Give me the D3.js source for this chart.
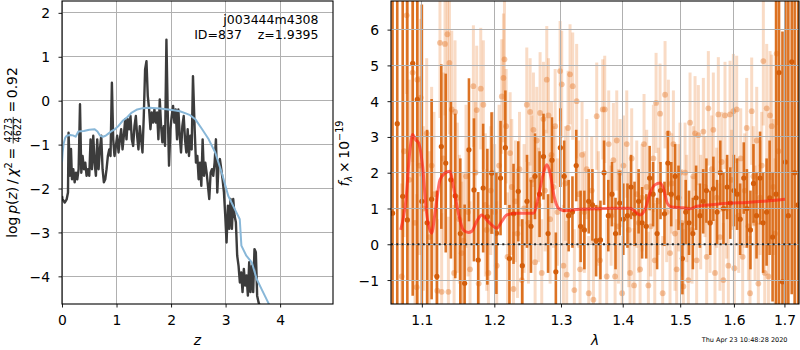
<!DOCTYPE html>
<html><head><meta charset="utf-8">
<script src="https://cdn.jsdelivr.net/npm/d3@7"></script>
<style>
body{margin:0;background:#fff;}
svg{display:block;font-family:"DejaVu Sans",sans-serif;}
</style></head><body>
<svg id="c" width="800" height="350"></svg>
<script>
// ---------- left panel: log p(z) ----------
const pzZ = [0.00,0.01,0.05,0.085,0.11,0.12,0.146,0.165,0.183,0.207,
0.232,0.256,0.28,0.305,0.33,0.354,0.378,0.402,0.427,0.451,
0.476,0.5,0.524,0.549,0.573,0.598,0.622,0.646,0.671,0.695,
0.72,0.744,0.768,0.793,0.817,0.841,0.866,0.89,0.915,0.939,
0.963,0.988,1.012,1.037,1.061,1.085,1.11,1.134,1.159,1.183,
1.207,1.232,1.256,1.28,1.305,1.329,1.354,1.378,1.402,1.427,
1.451,1.476,1.5,1.524,1.549,1.573,1.598,1.622,1.646,1.67,
1.695,1.72,1.744,1.768,1.793,1.817,1.841,1.866,1.89,1.915,
1.939,1.963,1.988,2.012,2.037,2.061,2.085,2.11,2.134,2.159,
2.183,2.207,2.232,2.256,2.28,2.305,2.329,2.354,2.378,2.402,
2.433,2.457,2.482,2.506,2.53,2.555,2.579,2.604,2.628,2.652,
2.677,2.701,2.726,2.75,2.774,2.799,2.823,2.848,2.872,2.896,
2.921,2.945,2.97,2.994,3.018,3.043,3.067,3.091,3.116,3.14,
3.165,3.189,3.213,3.238,3.262,3.287,3.311,3.335,3.36,3.384,
3.409,3.433,3.457,3.482,3.506,3.53,3.555,3.579,3.604,3.628,
3.665,3.72];
const pzLogp = [-2.17,-2.24,-2.32,-2.25,-2.09,-0.73,-1.71,-1.1,-1.79,-1.56,
-1.86,-1.64,-1.79,-1.56,-0.08,-1.64,-1.26,-1.56,-1.41,-1.71,
-1.56,-1.71,-0.88,-1.56,-0.8,-1.41,-1.71,-0.88,-1.56,-1.11,
-0.8,-1.56,-1.86,-1.79,-1.56,-1.26,-1.11,-1.26,0.41,-0.88,
-1.26,-1.03,-0.8,-1.18,-0.88,-0.65,-1.11,-0.8,-0.42,-0.88,
-0.42,-0.65,-0.35,-0.88,-1.03,-0.58,-0.35,-0.8,-1.11,-0.58,
-0.88,-1.18,-0.35,0.71,0.9,0.11,-0.2,-0.65,-0.27,-0.5,
-0.2,-0.5,-0.27,-0.88,0.03,-0.58,-0.95,-0.58,-1.03,1.39,
-0.27,-1.48,-0.65,-0.35,-0.12,-0.5,-0.2,-0.88,-0.2,-0.8,
-1.18,-0.58,-0.35,-0.88,-1.18,-0.65,-1.26,-0.8,-1.11,0.56,
-0.65,-1.41,-1.26,-1.79,-1.41,-1.94,-0.88,-1.71,-1.41,-1.64,
-1.94,-2.24,-1.64,-1.56,-1.71,-1.41,-0.88,-2.09,-1.41,-1.33,
-1.56,-1.79,-2.09,-2.62,-3.23,-2.39,-2.92,-2.24,-2.92,-2.24,
-2.62,-2.77,-3.53,-3.76,-4.14,-3.91,-4.36,-3.83,-4.21,-3.98,
-4.44,-3.68,-4.36,-3.76,-4.36,-3.38,-3.45,-4.44,-4.59,-4.67,
-4.9,-5.3];
const priorZ = [0,0.012,0.03,0.06,0.085,0.15,0.2,0.25,0.3,0.4,
0.5,0.6,0.65,0.7,0.75,0.8,0.85,0.9,0.96,1.04,
1.12,1.2,1.28,1.38,1.48,1.6,1.8,1.95,2.05,2.16,
2.27,2.35,2.45,2.57,2.69,2.81,2.93,3.05,3.2,3.26,
3.29,3.38,3.48,3.57,3.66,3.75,3.81,3.9];
const priorLogp = [-1.4,-1.18,-0.98,-0.84,-0.8,-0.78,-0.79,-0.82,-0.7,-0.69,
-0.66,-0.65,-0.7,-0.8,-0.82,-0.8,-0.75,-0.7,-0.66,-0.57,
-0.45,-0.37,-0.27,-0.2,-0.17,-0.16,-0.18,-0.2,-0.22,-0.24,
-0.29,-0.33,-0.43,-0.65,-0.88,-1.18,-1.64,-2.17,-2.55,-2.7,
-3.3,-3.53,-3.68,-4.06,-4.29,-4.52,-4.67,-4.9];
const zTicks = [0,1,2,3,4];
const pzTicks = [-4,-3,-2,-1,0,1,2];

// ---------- right panel: spectrum ----------
const darkWave = [1.062,1.068,1.075,1.081,1.088,1.094,1.100,1.107,1.113,1.120,
1.126,1.132,1.139,1.145,1.152,1.158,1.164,1.171,1.177,1.184,
1.190,1.196,1.203,1.209,1.216,1.222,1.228,1.235,1.241,1.248,
1.254,1.260,1.267,1.273,1.280,1.286,1.292,1.299,1.305,1.312,
1.318,1.324,1.331,1.337,1.344,1.350,1.356,1.363,1.369,1.376,
1.382,1.388,1.395,1.401,1.408,1.414,1.420,1.427,1.433,1.440,
1.446,1.452,1.459,1.465,1.472,1.478,1.484,1.491,1.497,1.504,
1.510,1.516,1.523,1.529,1.536,1.542,1.548,1.555,1.561,1.568,
1.574,1.580,1.587,1.593,1.600,1.606,1.612,1.619,1.625,1.632,
1.638,1.644,1.651,1.657,1.664,1.670,1.676,1.683,1.689,1.696,
1.702,1.708,1.715,1.721,1.728];
const darkFlux = [0.87,3.37,1.34,0.68,5.06,4.05,1.2,0.6,1.26,-0.9,
2.73,2.27,1.8,1.35,0.3,-1.09,2.64,1.52,-0.44,1.57,
0.77,1.99,0.31,1.85,2.7,-0.4,0.85,1.48,-0.6,1.2,
0.5,1.9,1.4,2.45,0.3,2.35,-0.77,2.7,1.9,0.8,
0.9,2.2,0.5,0.4,1.2,1.1,0.1,0.12,2.0,0.8,
1.4,0.3,1.15,0.7,0.8,1.6,0.85,1.2,0.6,0.5,
1.85,1.4,0.3,1.5,0.85,2.27,1.4,1.9,1.3,-0.4,
0.9,0.6,0.3,1.3,0.8,1.2,1.5,0.6,1.55,0.9,
2.0,1.0,1.6,1.15,1.5,1.4,0.7,1.85,1.0,0.4,
1.7,0.8,1.85,0.6,0.9,1.3,0.2,1.4,4.8,-1.05,
2.3,0.8,5.1,2.0,1.1];
const darkErr = [6.5,7.0,6.0,7.5,6.5,6.0,5.5,2.6,2.8,2.4,
2.3,2.5,2.2,2.3,2.1,2.2,2.0,2.0,1.9,1.8,
1.9,1.7,1.7,1.6,1.6,1.5,1.4,1.4,1.3,1.3,
1.3,1.2,1.2,1.2,1.1,1.2,1.1,1.1,1.0,1.0,
1.0,1.0,1.0,1.1,0.9,1.0,1.0,1.1,0.9,1.0,
0.9,1.0,0.9,1.0,0.9,0.9,0.9,0.9,1.0,0.9,
0.9,0.9,1.0,0.8,0.9,0.9,0.9,0.9,0.9,1.0,
0.9,0.9,1.0,0.9,0.9,0.9,0.9,0.9,0.9,0.9,
0.9,1.0,0.9,1.0,1.0,1.0,1.0,1.0,1.1,1.1,
1.1,1.2,1.3,1.4,1.5,1.6,1.8,5.5,6.5,7.0,
6.0,7.0,6.5,7.5,7.0];
const lightWave = [1.0737,1.0767,1.0801,1.0836,1.0879,1.0910,1.0932,1.0941,1.0967,1.0985,
1.1020,1.1064,1.1099,1.1130,1.1161,1.1206,1.1242,1.1265,1.1288,1.1310,
1.1342,1.1356,1.1370,1.1402,1.1434,1.1447,1.1479,1.1507,1.1539,1.1562,
1.1599,1.1627,1.1655,1.1702,1.1730,1.1749,1.1777,1.1806,1.1843,1.1872,
1.1891,1.1915,1.1949,1.1977,1.2006,1.2035,1.2069,1.2108,1.2132,1.2147,
1.2171,1.2191,1.2230,1.2254,1.2279,1.2309,1.2338,1.2368,1.2403,1.2437,
1.2477,1.2502,1.2527,1.2552,1.2577,1.2602,1.2627,1.2653,1.2678,1.2703,
1.2729,1.2754,1.2780,1.2806,1.2831,1.2852,1.2883,1.2909,1.2945,1.2986,
1.3012,1.3038,1.3069,1.3090,1.3111,1.3142,1.3184,1.3210,1.3247,1.3279,
1.3301,1.3333,1.3370,1.3408,1.3440,1.3489,1.3516,1.3570,1.3597,1.3624,
1.3668,1.3701,1.3734,1.3767,1.3806,1.3844,1.3872,1.3900,1.3928,1.3956,
1.3990,1.4012,1.4068,1.4102,1.4124,1.4152,1.4192,1.4238,1.4272,1.4295,
1.4329,1.4363,1.4409,1.4438,1.4479,1.4525,1.4549,1.4572,1.4613,1.4642,
1.4688,1.4730,1.4759,1.4789,1.4818,1.4848,1.4878,1.4907,1.4937,1.4973,
1.4997,1.5027,1.5057,1.5088,1.5118,1.5148,1.5179,1.5215,1.5239,1.5270,
1.5300,1.5331,1.5374,1.5423,1.5454,1.5485,1.5516,1.5547,1.5578,1.5609,
1.5640,1.5671,1.5703,1.5734,1.5766,1.5798,1.5829,1.5861,1.5893,1.5925,
1.5957,1.5989,1.6008,1.6053,1.6092,1.6131,1.6169,1.6208,1.6247,1.6280,
1.6312,1.6345,1.6378,1.6411,1.6444,1.6476,1.6509,1.6542,1.6575,1.6602,
1.6642,1.6676,1.6709,1.6743,1.6776,1.6810,1.6843,1.6877];
const lightFlux = [-0.9,2.6,6.4,1.8,4.8,0.6,-1.2,4.6,2.2,4.1,
1.0,3.1,0.2,2.2,1.4,-1.3,5.63,-1.33,2.4,5.6,
5.87,-1.33,5.07,3.77,-0.8,3.7,1.3,0.7,-0.25,0.1,
1.9,0.9,-0.7,4.42,2.0,3.75,-1.1,4.35,3.9,1.1,
0.4,-0.8,1.5,2.0,0.9,-0.6,2.2,4.13,4.65,5.17,
3.3,-0.35,2.55,1.6,-1.25,1.2,0.3,2.1,-1.0,1.0,
3.9,0.6,3.7,1.8,3.2,-0.5,2.9,1.1,3.67,-0.8,
3.5,1.5,4.6,3.6,0.7,2.5,1.6,3.3,0.9,4.84,
4.47,-0.6,1.7,-0.85,3.25,4.75,4.42,-1.28,4.0,1.4,
-0.7,2.5,0.9,2.1,-1.37,1.5,-1.55,3.58,1.0,-0.45,
3.77,3.77,-0.9,2.8,0.8,2.35,-0.9,2.9,0.5,2.0,
-1.37,2.2,2.8,0.4,-0.8,2.4,-1.15,1.4,0.6,-0.7,
1.3,2.8,1.6,-1.15,0.5,2.4,-0.45,3.95,1.2,3.65,
-1.37,4.18,0.9,3.1,-0.25,1.7,2.8,0.3,-0.7,1.3,
2.0,0.6,-1.18,2.0,1.0,-1.0,3.4,0.4,1.9,3.1,
-0.45,3.05,0.9,3.15,1.6,-0.35,3.8,0.6,2.1,3.2,
-0.8,1.3,3.63,0.2,2.3,-1.0,3.6,1.0,-0.6,3.63,
1.8,3.72,-0.67,3.77,0.8,2.4,-0.35,1.5,3.25,0.5,
-1.37,3.72,1.9,0.6,2.9,-1.1,1.3,2.2,5.12,-0.8,
3.8,-0.9,3.6,3.3,1.6,0.3,5.33,2.6];
const lightErr = [2.6,2.4,2.2,2.8,2.5,2.3,2.6,2.4,2.5,2.2,
2.3,2.1,2.4,2.2,2.3,2.0,2.1,2.2,2.4,2.0,
1.9,2.1,2.0,2.2,1.9,2.0,2.1,1.8,2.0,1.9,
2.0,1.8,1.9,1.7,2.0,1.8,1.9,1.7,1.8,2.0,
1.7,1.9,1.8,1.7,1.9,1.8,1.7,1.6,1.8,1.7,
1.6,1.8,1.7,1.9,1.6,1.7,1.8,1.6,1.7,1.8,
1.6,1.7,1.5,1.8,1.6,1.7,1.5,1.6,1.7,1.5,
1.6,1.7,1.5,1.6,1.8,1.5,1.7,1.6,1.5,1.4,
1.5,1.7,1.6,1.5,1.6,1.4,1.5,1.7,1.6,1.5,
1.6,1.5,1.7,1.4,1.6,1.5,1.7,1.5,1.6,1.5,
1.4,1.5,1.6,1.5,1.4,1.6,1.5,1.4,1.6,1.5,
1.6,1.4,1.5,1.6,1.5,1.4,1.6,1.5,1.4,1.6,
1.5,1.4,1.6,1.5,1.4,1.5,1.6,1.4,1.5,1.4,
1.6,1.5,1.4,1.5,1.6,1.4,1.5,1.6,1.4,1.5,
1.4,1.5,1.6,1.4,1.5,1.6,1.4,1.5,1.4,1.6,
1.5,1.4,1.6,1.5,1.4,1.5,1.6,1.4,1.5,1.6,
1.5,1.4,1.6,1.5,1.4,1.6,1.5,1.4,1.6,1.5,
1.4,1.6,1.5,1.5,1.6,1.4,1.5,1.6,1.4,1.5,
1.6,1.5,1.4,1.6,1.5,1.7,1.6,1.5,1.8,1.7,
1.8,1.9,1.8,2.0,1.9,2.1,2.0,2.2];
const modelWave = [1.0724,1.0792,1.0844,1.0879,1.0914,1.0958,1.1010,1.1063,1.1130,1.1175,
1.1242,1.1310,1.1378,1.1424,1.1493,1.1562,1.1632,1.1678,1.1749,1.1820,
1.1891,1.1963,1.2035,1.2108,1.2181,1.2328,1.2527,1.2577,1.2653,1.2729,
1.2780,1.2831,1.2893,1.2960,1.3038,1.3301,1.3568,1.3842,1.4122,1.4207,
1.4292,1.4378,1.4465,1.4552,1.4640,1.4710,1.4769,1.4846,1.5059,1.5180,
1.5302,1.5612,1.5925,1.6247,1.6575,1.7012];
const modelFlux = [0.40,1.24,2.64,3.07,2.93,2.83,2.18,0.87,0.31,0.87,
1.80,1.99,2.04,1.62,0.87,0.40,0.33,0.36,0.64,0.82,
0.68,0.54,0.45,0.64,0.82,0.87,0.87,0.87,1.34,1.99,
2.22,1.99,1.34,1.01,0.94,0.98,0.99,1.01,1.01,0.92,
0.82,0.96,1.43,1.66,1.71,1.52,1.15,1.04,1.02,0.99,
1.06,1.11,1.15,1.17,1.20,1.26];
const waveTicks = [1.1,1.2,1.3,1.4,1.5,1.6,1.7];
const fluxTicks = [-1,0,1,2,3,4,5,6];

const titleLines = ["j003444m4308", "ID=837    z=1.9395"];
const stamp = "Thu Apr 23 10:48:28 2020";

// ---------- drawing ----------
const svg = d3.select("#c");
const FS = 13.9;
const gridCol = "#b0b0b0";

const L = {x0:62, x1:333, y0:1, y1:304};
const R = {x0:391, x1:799, y0:1, y1:304};

const xL = d3.scaleLinear().domain([0,4.97]).range([L.x0,L.x1]);
const yL = d3.scaleLinear().domain([-4.63,2.27]).range([L.y1,L.y0]);
const xR = d3.scaleLog().domain([1.06,1.73]).range([R.x0,R.x1]);
const yR = d3.scaleLinear().domain([-1.67,6.8]).range([R.y1,R.y0]);

const defs = svg.append("defs");
defs.append("clipPath").attr("id","clipL").append("rect")
  .attr("x",L.x0).attr("y",L.y0).attr("width",L.x1-L.x0).attr("height",L.y1-L.y0);
defs.append("clipPath").attr("id","clipR").append("rect")
  .attr("x",R.x0).attr("y",R.y0).attr("width",R.x1-R.x0).attr("height",R.y1-R.y0);

function grid(g, P, xs, ys, xt, yt){
  const gg = g.append("g").attr("stroke",gridCol).attr("stroke-width",1).attr("shape-rendering","crispEdges");
  xt.forEach(t=>gg.append("line").attr("x1",xs(t)).attr("x2",xs(t)).attr("y1",P.y0).attr("y2",P.y1));
  yt.forEach(t=>gg.append("line").attr("y1",ys(t)).attr("y2",ys(t)).attr("x1",P.x0).attr("x2",P.x1));
}
function axes(P, xs, ys, xt, yt, xfmt, yfmt){
  const ax = svg.append("g").attr("transform",`translate(0,${P.y1})`)
    .call(d3.axisBottom(xs).tickValues(xt).tickFormat(xfmt).tickSize(3.5).tickPadding(3.5));
  const ay = svg.append("g").attr("transform",`translate(${P.x0},0)`)
    .call(d3.axisLeft(ys).tickValues(yt).tickFormat(yfmt).tickSize(3.5).tickPadding(8.5));
  [ax,ay].forEach(a=>{
    a.select(".domain").remove();
    a.selectAll("line").attr("stroke","#000").attr("stroke-width",0.9);
    a.selectAll("text").attr("font-size",FS).attr("font-family","DejaVu Sans").attr("fill","#000");
  });
  ax.selectAll("text").attr("y",21.2).attr("dy",0);
  ay.selectAll("text").attr("dy","0.36em");
  svg.append("rect").attr("x",P.x0).attr("y",P.y0).attr("width",P.x1-P.x0).attr("height",P.y1-P.y0)
    .attr("fill","none").attr("stroke","#000").attr("stroke-width",1.1);
}
const minus = s => s.replace("-","\u2212");

// Left panel
const gL = svg.append("g");
grid(gL, L, xL, yL, zTicks, pzTicks);
const gLd = gL.append("g").attr("clip-path","url(#clipL)");
const pzData = pzZ.map((z,i)=>[z,pzLogp[i]]);
const priorData = priorZ.map((z,i)=>[z,priorLogp[i]]);
gLd.append("path").datum(pzData)
  .attr("d",d3.line().x(d=>xL(d[0])).y(d=>yL(d[1])))
  .attr("fill","none").attr("stroke","#3c3c3c").attr("stroke-width",2.4).attr("stroke-linejoin","round");
gLd.append("path").datum(priorData)
  .attr("d",d3.line().x(d=>xL(d[0])).y(d=>yL(d[1])))
  .attr("fill","none").attr("stroke","#88b7d8").attr("stroke-width",2).attr("stroke-linejoin","round");
axes(L, xL, yL, zTicks, pzTicks, d=>String(d), d=>minus(String(d)));

svg.append("text").attr("x",318.5).attr("y",23.5).attr("text-anchor","end")
  .attr("font-size",12.5).text(titleLines[0]);
svg.append("text").attr("x",318.5).attr("y",38.5).attr("text-anchor","end")
  .attr("font-size",12.5).style("white-space","pre").text(titleLines[1]);

// x label z
svg.append("text").attr("x",(L.x0+L.x1)/2).attr("y",344.5).attr("text-anchor","middle")
  .attr("font-size",FS).attr("font-style","italic").text("z");

// left y label with fraction
{
  const g = svg.append("g").attr("transform","translate(0,152.5) rotate(-90)");
  const inner = g.append("g");
  const t1 = inner.append("text").attr("x",0).attr("y",16.5).attr("font-size",FS);
  t1.append("tspan").text("log\u2009");
  t1.append("tspan").attr("font-style","italic").text("p");
  t1.append("tspan").text("(");
  t1.append("tspan").attr("font-style","italic").text("z");
  t1.append("tspan").text(")\u2009/\u2009");
  t1.append("tspan").attr("font-style","italic").text("\u03c7");
  t1.append("tspan").attr("font-size",9.7).attr("dy",-5).text("2");
  t1.append("tspan").attr("dy",5).text("\u2009=\u2009");
  const w1 = t1.node().getComputedTextLength();
  const fx = w1 + 1.5;
  const num = inner.append("text").attr("y",11.6).attr("font-size",9.7).attr("text-anchor","middle").text("4273");
  const den = inner.append("text").attr("y",20.6).attr("font-size",9.7).attr("text-anchor","middle").text("4622");
  const fw = Math.max(num.node().getComputedTextLength(), den.node().getComputedTextLength()) + 2;
  num.attr("x",fx+fw/2); den.attr("x",fx+fw/2);
  inner.append("line").attr("x1",fx).attr("x2",fx+fw).attr("y1",13.2).attr("y2",13.2)
    .attr("stroke","#000").attr("stroke-width",0.8);
  const t3 = inner.append("text").attr("x",fx+fw+1.5).attr("y",16.5).attr("font-size",FS).text("\u2009=\u20090.92");
  const total = fx+fw+1.5+t3.node().getComputedTextLength();
  inner.attr("transform",`translate(${-total/2},0)`);
}

// Right panel
const gR = svg.append("g");
const gRd = gR.append("g").attr("clip-path","url(#clipR)");
const lightCol = "rgba(232,125,45,0.28)";
const lightPt = "rgba(228,120,40,0.42)";
const darkCol = "rgba(216,100,12,0.9)";
const darkPt = "#d45e0b";
const light = lightWave.map((w,i)=>({w, f:lightFlux[i], e:lightErr[i]}));
const dark = darkWave.map((w,i)=>({w, f:darkFlux[i], e:darkErr[i]}));
gRd.append("g").selectAll("line").data(light).join("line")
  .attr("x1",d=>xR(d.w)).attr("x2",d=>xR(d.w))
  .attr("y1",d=>yR(d.f-d.e)).attr("y2",d=>yR(d.f+d.e))
  .attr("stroke",lightCol).attr("stroke-width",3);
gRd.append("g").selectAll("circle").data(light).join("circle")
  .attr("cx",d=>xR(d.w)).attr("cy",d=>yR(d.f)).attr("r",2.9).attr("fill",lightPt);
gRd.append("g").selectAll("line").data(dark).join("line")
  .attr("x1",d=>xR(d.w)).attr("x2",d=>xR(d.w))
  .attr("y1",d=>yR(d.f-d.e)).attr("y2",d=>yR(d.f+d.e))
  .attr("stroke",darkCol).attr("stroke-width",2.6);
gRd.append("g").selectAll("circle").data(dark).join("circle")
  .attr("cx",d=>xR(d.w)).attr("cy",d=>yR(d.f)).attr("r",2.6).attr("fill",darkPt);
grid(gR, R, xR, yR, waveTicks, fluxTicks);
gR.append("line").attr("x1",R.x0).attr("x2",R.x1).attr("y1",yR(0)).attr("y2",yR(0))
  .attr("stroke","#222").attr("stroke-width",2).attr("stroke-dasharray","2,3.3");
const model = modelWave.map((w,i)=>[w,modelFlux[i]]);
gR.append("g").attr("clip-path","url(#clipR)").append("path").datum(model)
  .attr("d",d3.line().curve(d3.curveMonotoneX).x(d=>xR(d[0])).y(d=>yR(d[1])))
  .attr("fill","none").attr("stroke","rgba(255,25,15,0.62)").attr("stroke-width",3)
  .attr("stroke-linejoin","round");
axes(R, xR, yR, waveTicks, fluxTicks, d3.format(".1f"), d=>minus(String(d)));

// x label lambda
svg.append("text").attr("x",(R.x0+R.x1)/2).attr("y",344.5).attr("text-anchor","middle")
  .attr("font-size",FS).attr("font-style","italic").text("\u03bb");

// right y label
{
  const t = svg.append("text").attr("transform","translate(348.5,153.5) rotate(-90)")
    .attr("text-anchor","middle").attr("font-size",FS);
  t.append("tspan").attr("font-style","italic").text("f");
  t.append("tspan").attr("font-style","italic").attr("font-size",9.7).attr("dy",3).text("\u03bb");
  t.append("tspan").attr("dy",-3).text("\u2009\u00d7\u200910");
  t.append("tspan").attr("font-size",9.7).attr("dy",-5.5).text("\u221219");
}

svg.append("text").attr("x",787.5).attr("y",342).attr("text-anchor","end")
  .attr("font-size",6.5).text(stamp);
</script>
</body></html>
